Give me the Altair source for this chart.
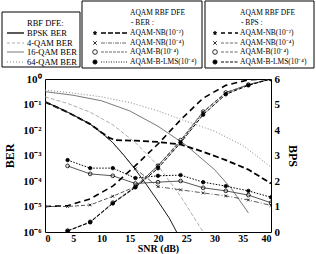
import altair as alt
import pandas as pd

SERIF = "Liberation Serif"

# ---------------- fixed-mode RBF DFE BER curves ----------------
bpsk_snr = [0, 2, 4, 6, 8, 10, 12, 14, 16, 18, 20, 22, 23.3]
bpsk_ber = [1.26e-1, 8.3e-2, 5.0e-2, 3.0e-2, 1.7e-2, 8.0e-3, 3.2e-3, 1.0e-3,
            2.8e-4, 7.0e-5, 1.6e-5, 3.5e-6, 1.0e-6]

qam4_snr = [0, 4, 8, 12, 16, 20, 24, 28]
qam4_ber = [2.0e-1, 1.1e-1, 5.0e-2, 1.6e-2, 3.2e-3, 4.0e-4, 2.5e-5, 1.0e-6]

qam16_snr = [0, 5, 10, 15, 20, 25, 30, 33, 36]
qam16_ber = [3.2e-1, 2.3e-1, 1.4e-1, 5.6e-2, 1.4e-2, 2.5e-3, 2.8e-4, 5.0e-5, 5.6e-6]

qam64_snr = [0, 5, 10, 15, 20, 25, 30, 35, 40]
qam64_ber = [3.7e-1, 2.8e-1, 2.0e-1, 1.2e-1, 5.6e-2, 2.2e-2, 9.0e-3, 2.5e-3, 3.5e-4]

# ---------------- AQAM RBF DFE: BER ----------------
nb2_ber_snr = [0, 4, 8, 10, 11.5, 12.5, 16, 20, 24, 28, 32, 36, 40]
nb2_ber = [1.26e-1, 5.0e-2, 1.7e-2, 8.0e-3, 4.8e-3, 4.0e-3, 3.8e-3, 3.4e-3, 2.7e-3,
           1.4e-3, 6.6e-4, 2.8e-4, 8.0e-5]

nb4_ber_snr = [0, 4, 8, 12, 16, 20, 24, 28, 32, 36, 40]
nb4_ber = [1.26e-1, 5.0e-2, 1.7e-2, 3.2e-3, 3.0e-4, 6.0e-5, 4.5e-5, 3.4e-5,
           2.6e-5, 1.8e-5, 1.1e-5]

b_snr = [4, 8, 12, 16, 20, 24, 28, 32, 36, 40]
b4_ber = [3.9e-4, 1.9e-4, 1.6e-4, 8.0e-5, 9.0e-5, 1.0e-4, 5.4e-5, 4.1e-5, 2.8e-5, 1.4e-5]
blms_ber = [6.6e-4, 3.2e-4, 3.2e-4, 1.3e-4, 1.6e-4, 1.7e-4, 9.0e-5, 6.3e-5, 4.1e-5, 2.3e-5]

# ---------------- AQAM RBF DFE: BPS ----------------
nb_snr = [0, 4, 8, 12, 16, 20, 24, 28, 32, 36, 40]
nb2_bps = [1.0, 1.03, 1.3, 1.8, 2.6, 3.45, 4.4, 5.25, 5.75, 5.97, 6.0]
nb4_bps = [1.0, 1.0, 1.06, 1.4, 1.78, 2.6, 3.55, 4.7, 5.45, 5.78, 6.0]
b4_bps = [0.05, 0.4, 1.15, 1.78, 2.6, 3.6, 4.72, 5.47, 5.78, 6.0]
blms_bps = [0.04, 0.38, 1.12, 1.75, 2.5, 3.5, 4.6, 5.4, 5.75, 6.0]

# ---------------- axis ticks and legend text ----------------
snr_ticks = [0, 5, 10, 15, 20, 25, 30, 35, 40]
ber_ticks = [1e-6, 1e-5, 1e-4, 1e-3, 1e-2, 1e-1, 1]
bps_ticks = [0, 1, 2, 3, 4, 5, 6]
fixed_labels = ["BPSK BER", "4-QAM BER", "16-QAM BER", "64-QAM BER"]
aqam_labels = ["AQAM-NB(10⁻²)", "AQAM-NB(10⁻⁴)", "AQAM-B(10⁻⁴)", "AQAM-B-LMS(10⁻⁴)"]

W, H = 226, 153          # plot area
LEFT, TOP = 45, 79       # plot origin on the page

STAR = ("M0,-1L0.29,-0.4L0.95,-0.31L0.48,0.15L0.59,0.81L0,0.5L-0.59,0.81"
        "L-0.48,0.15L-0.95,-0.31L-0.29,-0.4Z")
XMARK = "M-1,-1L1,1M-1,1L1,-1"

x_scale = alt.Scale(domain=[0, 40], nice=False, zero=False)
ber_scale = alt.Scale(type="log", domain=[1e-6, 1], nice=False)
bps_scale = alt.Scale(domain=[0, 6], nice=False, zero=False)

sup = {0: "⁰", 1: "⁻¹", 2: "⁻²", 3: "⁻³", 4: "⁻⁴", 5: "⁻⁵", 6: "⁻⁶"}
ber_label_expr = " : ".join(
    [f"datum.value > {10 ** -(k + 0.5):.8f} ? '10{sup[k]}'" for k in range(6)]
) + " : '10⁻⁶'"

x_axis = alt.Axis(values=snr_ticks, title="SNR  (dB)", labelFont=SERIF,
                  labelFontWeight="bold", labelFontSize=10, labelPadding=1,
                  titleFont=SERIF, titleFontWeight="bold", titleFontSize=10,
                  titlePadding=0, ticks=False, domain=False, grid=False)
ber_axis = alt.Axis(values=ber_ticks, title="BER", labelExpr=ber_label_expr,
                    labelFont=SERIF, labelFontWeight="bold", labelFontSize=11,
                    labelPadding=4, titleFont=SERIF, titleFontWeight="bold",
                    titleFontSize=12, titlePadding=6, ticks=False, domain=False,
                    grid=False)
bps_axis = alt.Axis(values=bps_ticks, title="BPS", orient="right", labelFont=SERIF,
                    labelFontWeight="bold", labelFontSize=11, labelPadding=3,
                    titleFont=SERIF, titleFontWeight="bold", titleFontSize=12,
                    titlePadding=6, ticks=False, domain=False, grid=False)


def curve(snr, vals, yscale, color, width, dash=None, xaxis=None, yaxis=None):
    df = pd.DataFrame({"snr": snr, "v": vals})
    props = dict(stroke=color, strokeWidth=width, clip=True)
    if dash:
        props["strokeDash"] = dash
    return alt.Chart(df).mark_line(**props).encode(
        x=alt.X("snr:Q", scale=x_scale, axis=xaxis),
        y=alt.Y("v:Q", scale=yscale, axis=yaxis),
    )


def markers(snr, vals, yscale, shape, size, filled, color="black", width=0.8, start=0):
    df = pd.DataFrame({"snr": snr, "v": vals})
    df = df[(df["snr"] % 4 == 0) & (df["snr"] >= start)]
    props = dict(shape=shape, size=size, filled=filled, stroke=color,
                 strokeWidth=width, opacity=1, clip=True)
    if filled:
        props["fill"] = color
    return alt.Chart(df).mark_point(**props).encode(
        x=alt.X("snr:Q", scale=x_scale, axis=None),
        y=alt.Y("v:Q", scale=yscale, axis=None),
    )


ber_layers = [
    curve(qam64_snr, qam64_ber, ber_scale, "#777777", 0.9, [1, 2], xaxis=x_axis, yaxis=ber_axis),
    curve(qam16_snr, qam16_ber, ber_scale, "#555555", 0.8),
    curve(qam4_snr, qam4_ber, ber_scale, "#999999", 0.8, [4, 2]),
    curve(bpsk_snr, bpsk_ber, ber_scale, "black", 0.9),
    curve(nb2_ber_snr, nb2_ber, ber_scale, "black", 1.8, [6, 3]),
    curve(nb4_ber_snr, nb4_ber, ber_scale, "#333333", 0.8, [5, 2, 1, 2]),
    curve(b_snr, b4_ber, ber_scale, "#444444", 0.9),
    curve(b_snr, blms_ber, ber_scale, "black", 1.0, [1.5, 1.5]),
    markers(nb4_ber_snr, nb4_ber, ber_scale, XMARK, 8, False, start=16),
    markers(b_snr, b4_ber, ber_scale, "circle", 14, False),
    markers(b_snr, blms_ber, ber_scale, "circle", 12, True),
]

bps_layers = [
    curve(nb_snr, nb2_bps, bps_scale, "black", 1.6, [6, 4], yaxis=bps_axis),
    curve(nb_snr, nb4_bps, bps_scale, "#444444", 0.9, [4, 2]),
    curve(b_snr, b4_bps, bps_scale, "#444444", 0.9, [4, 1.5]),
    curve(b_snr, blms_bps, bps_scale, "black", 1.0, [4, 1.5]),
    markers(nb_snr, nb4_bps, bps_scale, XMARK, 8, False),
    markers(b_snr, b4_bps, bps_scale, "circle", 14, False),
    markers(b_snr, blms_bps, bps_scale, "circle", 12, True),
]

# ---------------- legend boxes drawn in page pixels ----------------
one = alt.Data(values=[{"k": 1}])


def px(x):
    return alt.value(x - LEFT)


def py(y):
    return alt.value(y - TOP)


def box(x0, y0, x1, y1):
    return alt.Chart(one).mark_rect(fill="white", stroke="black", strokeWidth=1).encode(
        x=px(x0), x2=px(x1), y=py(y0), y2=py(y1))


def text(x, y, s, size):
    return alt.Chart(one).mark_text(text=s, align="left", baseline="middle", font=SERIF,
                                    fontSize=size, color="black").encode(x=px(x), y=py(y))


def sample(x0, x1, y, color, width, dash=None):
    props = dict(stroke=color, strokeWidth=width)
    if dash:
        props["strokeDash"] = dash
    return alt.Chart(one).mark_rule(**props).encode(x=px(x0), x2=px(x1), y=py(y))


def glyph(x, y, shape, size, filled):
    props = dict(shape=shape, size=size, filled=filled, stroke="black",
                 strokeWidth=0.8, opacity=1)
    if filled:
        props["fill"] = "black"
    return alt.Chart(one).mark_point(**props).encode(x=px(x), y=py(y))


FS1, FS2 = 8.5, 7.5
rows = [33, 43, 52, 62]
fixed_styles = [("black", 1.3, None), ("#999999", 0.8, [3, 2]),
                ("#555555", 0.8, None), ("#777777", 0.9, [1, 2])]
ber_styles = [("black", 1.6, [5, 2]), ("#444444", 0.8, [4, 1, 1, 1]),
              ("#444444", 0.8, [3, 1]), ("black", 0.9, [1, 1.5])]
bps_styles = [("black", 1.4, [4, 3]), ("#444444", 0.8, [3, 1.5]),
              ("#444444", 0.8, [3, 1.5]), ("black", 1.0, [3, 1.5])]
glyphs = [(STAR, 14, True), (XMARK, 12, False), ("circle", 22, False), ("circle", 18, True)]

legend_layers = [box(2, 12, 80, 67), box(82, 1, 202, 68), box(205, 1, 314, 68),
                 text(27, 23, "RBF DFE:", FS1),
                 text(130, 13, "AQAM RBF DFE", FS2), text(131, 23, "- BER :", FS2),
                 text(240, 13, "AQAM RBF DFE", FS2), text(241, 23, "- BPS :", FS2)]
for i, y in enumerate(rows):
    c, w, d = fixed_styles[i]
    legend_layers += [sample(7, 24, y, c, w, d), text(27, y, fixed_labels[i], FS1)]
    c, w, d = ber_styles[i]
    g = glyphs[i]
    legend_layers += [glyph(95, y, *g), sample(101, 127, y, c, w, d),
                      text(130, y, aqam_labels[i], FS2)]
    c, w, d = bps_styles[i]
    legend_layers += [glyph(215, y, *g), sample(221, 238, y, c, w, d),
                      text(240, y, aqam_labels[i], FS2)]

chart = alt.layer(*ber_layers, *bps_layers, *legend_layers).resolve_scale(
    y="independent"
).resolve_axis(
    x="independent"
).properties(
    width=W, height=H,
    autosize=alt.AutoSizeParams(type="none"),
    padding={"left": LEFT, "top": TOP, "right": 316 - LEFT - W, "bottom": 254 - TOP - H},
    background="white",
).configure_view(stroke="black", strokeWidth=1)

chart.save("out.html", embed_options={"renderer": "svg", "actions": False})
